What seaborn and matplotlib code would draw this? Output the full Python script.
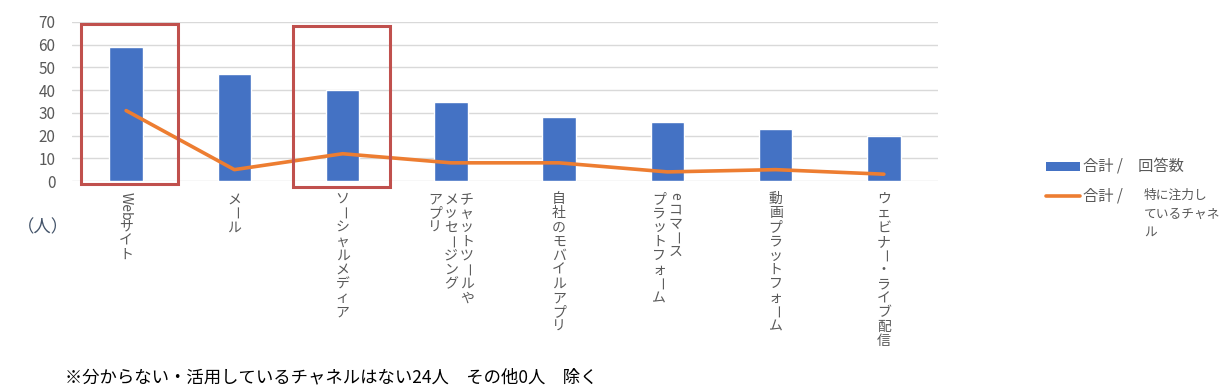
import re
import numpy as np
import pandas as pd
import matplotlib.pyplot as plt
import seaborn as sns
from matplotlib.patches import Rectangle, Patch
from matplotlib.lines import Line2D

plt.switch_backend('Agg')

# データ
categories = ['Webサイト', 'メール', 'ソーシャルメディア', 'チャットツールや\nメッセージング\nアプリ',
              '自社のモバイルアプリ', 'eコマース\nプラットフォーム', '動画プラットフォーム', 'ウェビナー・ライブ配信']
answers = [59, 47, 40, 35, 28, 26, 23, 20]
focused = [31, 5, 12, 8, 8, 4, 5, 3]
highlight = [0, 2]  # 赤枠のカテゴリ

df = pd.DataFrame({'cat': categories, 'answers': answers, 'focused': focused})
df['pos'] = np.arange(len(df))

sns.set_theme(style='white')
plt.rcParams['font.family'] = ['Noto Sans CJK JP', 'DejaVu Sans']

BLUE = '#4472C4'
ORANGE = '#ED7D31'
GRAY = '#595959'

fig = plt.figure(figsize=(12.25, 3.88), dpi=100)
ax = fig.add_axes([72 / 1225, 1 - 181 / 388, (938 - 72) / 1225, (181 - 22) / 388])

sns.barplot(data=df, x='pos', y='answers', color=BLUE, width=0.31, saturation=1, ax=ax, zorder=2)
sns.lineplot(x=df['pos'].values, y=df['focused'].values, color=ORANGE, linewidth=2.6, ax=ax, zorder=3)

ax.set_xlim(-0.5, len(df) - 0.5)
ax.set_ylim(0, 70)
ax.set_yticks(range(0, 71, 10))
ax.yaxis.grid(True, color='#d9d9d9', linewidth=1)
ax.set_axisbelow(True)
for s in ax.spines.values():
    s.set_visible(False)
ax.tick_params(axis='y', length=0, labelsize=11, labelcolor=GRAY, pad=12)
ax.tick_params(axis='x', length=0)
ax.set_xticklabels([])
ax.set_xlabel('')
ax.set_ylabel('')

# 縦書きのカテゴリラベル
fs = 10
step = 10.2
col_gap = 11.5
for i, lab in enumerate(categories):
    cols = lab.split('\n')
    n = len(cols)
    for j, col in enumerate(cols):
        dx = ((n - 1) / 2 - j) * col_gap
        dy = -8
        for tok in re.findall(r'[A-Za-z0-9]+|.', col):
            if tok.isascii():
                ax.annotate(tok, xy=(i, 0), xycoords=('data', 'axes fraction'), xytext=(dx, dy),
                            textcoords='offset points', ha='center', va='top', rotation=-90,
                            fontsize=fs, color=GRAY)
                dy -= 0.6 * fs * len(tok) + 1.5
            else:
                rot = -90 if tok == 'ー' else 0
                ax.annotate(tok, xy=(i, 0), xycoords=('data', 'axes fraction'), xytext=(dx, dy),
                            textcoords='offset points', ha='center', va='top', rotation=rot,
                            fontsize=fs, color=GRAY)
                dy -= step

# 赤枠
for k, (x0, x1, y0, y1) in zip(highlight, [(-0.417, 0.477, -1.3, 69.2), (1.546, 2.44, -2.6, 68.3)]):
    ax.add_patch(Rectangle((x0, y0), x1 - x0, y1 - y0, fill=False, edgecolor='#C0504D',
                           linewidth=2.2, clip_on=False, zorder=4))

fig.text(43 / 1225, 1 - 227 / 388, '（人）', ha='center', va='center', fontsize=12.5, color='#44546A')
fig.text(65 / 1225, 1 - 377 / 388, '※分からない・活用しているチャネルはない24人　その他0人　除く',
         ha='left', va='center', fontsize=12.5, color='black')

handles = [Patch(facecolor=BLUE, edgecolor='none'), Line2D([0], [0], color=ORANGE, linewidth=2.6)]
fig.legend(handles, ['合計 /　回答数', '合計 /'], loc='upper left',
           bbox_to_anchor=(1046 / 1225, 1 - 159 / 388), frameon=False, fontsize=11,
           labelcolor=GRAY, handlelength=2.2, handleheight=0.5, handletextpad=0.2,
           labelspacing=0.75, borderpad=0, borderaxespad=0)
fig.text(1144 / 1225, 1 - 189 / 388, '特に注力し\nているチャネ\nル', ha='left', va='top',
         fontsize=9.2, color=GRAY, linespacing=1.55)

fig.savefig('out.png', dpi=100)
